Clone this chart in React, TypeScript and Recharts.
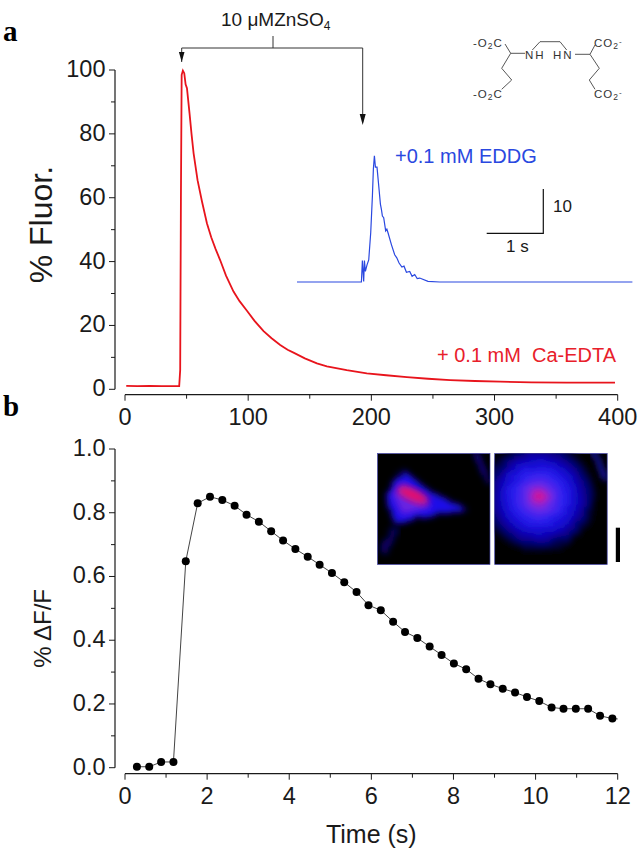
import { LineChart, Line, XAxis, YAxis } from 'recharts';

const FONT = "'Liberation Sans', Arial, sans-serif";
const INK = '#1a1a1a';

// panel a, red trace (+ Ca-EDTA)
const redTimes = [1, 10, 20, 30, 40, 44, 44.8, 45.4, 46, 47, 48.1, 49.2, 50.3, 52.4, 54, 55.7, 58.9, 62.5, 66.5, 70, 73.5, 77.3, 82, 88.1, 93, 99, 105, 112.5, 119, 126, 132, 136.8, 146, 155.8, 163.9, 180, 196.3, 212, 228.8, 246, 264, 284, 304.5, 330, 358.6, 380, 397.8];
const redValues = [1.1, 1.0, 1.1, 1.0, 1.0, 1.0, 6, 60, 98.5, 99.8, 99, 95.5, 94.3, 86.4, 80, 73.9, 65.5, 58.8, 52, 47.6, 44, 40.4, 35.6, 30.6, 27.6, 24.6, 21.5, 18.2, 16, 13.9, 12.4, 11.5, 9.7, 8.1, 7.2, 6, 5, 4.4, 3.8, 3.3, 2.9, 2.6, 2.4, 2.2, 2.1, 2.1, 2.1];

// panel a inset, blue trace (+ EDDG), seconds and % on the scale bar
const blueTimes = [0, 1.136, 1.153, 1.176, 1.189, 1.206, 1.235, 1.265, 1.3, 1.33, 1.347, 1.365, 1.383, 1.411, 1.436, 1.471, 1.49, 1.506, 1.529, 1.564, 1.585, 1.605, 1.665, 1.723, 1.76, 1.8, 1.85, 1.887, 1.93, 1.988, 2.03, 2.076, 2.12, 2.164, 2.31, 2.517, 5.915];
const blueValues = [0, 0, 4.9, 0.1, 4.9, 2.4, 3.9, 5, 11.2, 19.6, 25.7, 28.7, 26.1, 26.1, 22.6, 17.7, 16.4, 15, 14.6, 11.6, 12, 11.2, 8.5, 6.2, 5.5, 4.3, 3.4, 3.6, 2.2, 2.4, 1.3, 1.7, 0.8, 0.9, 0.15, 0, 0];

// panel b
const dffTimes = [0.29, 0.59, 0.88, 1.18, 1.48, 1.77, 2.07, 2.37, 2.67, 2.96, 3.26, 3.56, 3.85, 4.15, 4.45, 4.74, 5.04, 5.34, 5.64, 5.93, 6.23, 6.53, 6.82, 7.12, 7.42, 7.71, 8.01, 8.31, 8.61, 8.9, 9.2, 9.5, 9.79, 10.09, 10.39, 10.68, 10.98, 11.28, 11.57, 11.87, 12];
const dffValues = [0.003, 0.003, 0.018, 0.018, 0.648, 0.83, 0.85, 0.84, 0.822, 0.794, 0.772, 0.742, 0.713, 0.686, 0.662, 0.637, 0.611, 0.582, 0.551, 0.51, 0.494, 0.458, 0.426, 0.407, 0.38, 0.354, 0.327, 0.309, 0.279, 0.262, 0.248, 0.236, 0.222, 0.209, 0.189, 0.185, 0.185, 0.185, 0.163, 0.154, 0.153];

const xTicksA = [0, 50, 100, 150, 200, 250, 300, 350, 400];
const yTicksA = [0, 10, 20, 30, 40, 50, 60, 70, 80, 90, 100];
const xTicksB = [0, 1, 2, 3, 4, 5, 6, 7, 8, 9, 10, 11, 12];
const yTicksB = [0, 0.1, 0.2, 0.3, 0.4, 0.5, 0.6, 0.7, 0.8, 0.9, 1];

const redData = redTimes.map((t, i) => ({ t, v: redValues[i] }));
const blueData = blueTimes.map((t, i) => ({ t, v: blueValues[i] }));
const dffData = dffTimes.map((t, i) => ({ t, v: dffValues[i] }));

// Origin style axes sit clear of the data, so ticks are drawn with a gap from the plot edge
const BottomTick = ({ x, y, payload, gap, step }: any) => {
  const major = Math.round(payload.value / step) % 2 === 0;
  return (
    <g>
      <line x1={x} x2={x} y1={y + gap} y2={y + gap + (major ? 6 : 4)} stroke={INK} strokeWidth={1} />
      {major && (
        <text x={x} y={y + gap + 30} textAnchor="middle" fontSize={23.5} fontFamily={FONT} fill={INK}>
          {payload.value}
        </text>
      )}
    </g>
  );
};

const LeftTick = ({ x, y, payload, step, digits }: any) => {
  const major = Math.round(payload.value / step) % 2 === 0;
  return (
    <g>
      <line x1={x - 10} x2={x - 10 - (major ? 6 : 4)} y1={y} y2={y} stroke={INK} strokeWidth={1} />
      {major && (
        <text x={x - 19.5} y={y + 7} textAnchor="end" fontSize={23.5} fontFamily={FONT} fill={INK}>
          {payload.value.toFixed(digits)}
        </text>
      )}
    </g>
  );
};

const DffDot = ({ cx, cy, index }: any) =>
  index === dffData.length - 1 ? <g key={index} /> : <circle key={index} cx={cx} cy={cy} r={4} fill="#000" />;

function Molecule() {
  const t = { fontSize: 11.5, fontFamily: FONT, fill: '#333', letterSpacing: 1 };
  const sub = { fontSize: 8.5, dy: 2 };
  return (
    <g>
      <path
        d="M505 44 L510.7 53.3 L525 53.3 M510.7 53.3 L501.7 68.3 L511.7 80 L501.7 89.3 M532.3 50 L540 41.7 L560 41.7 L566.7 50 M575 54.3 L590 54.3 L595 45 M590 54.3 L599.3 68.3 L589.3 80 L595 89.3"
        fill="none"
        stroke="#444"
        strokeWidth={0.9}
      />
      <text x={473} y={47} {...t}>-O<tspan {...sub}>2</tspan><tspan dy={-2}>C</tspan></text>
      <text x={473} y={98} {...t}>-O<tspan {...sub}>2</tspan><tspan dy={-2}>C</tspan></text>
      <text x={525} y={59} {...t} letterSpacing={2}>NH</text>
      <text x={553} y={59} {...t} letterSpacing={2}>HN</text>
      <text x={594} y={47} {...t}>CO<tspan {...sub}>2</tspan><tspan dy={-5} fontSize={8}>-</tspan></text>
      <text x={594} y={98} {...t}>CO<tspan {...sub}>2</tspan><tspan dy={-5} fontSize={8}>-</tspan></text>
    </g>
  );
}

function CellImages() {
  return (
    <g>
      <defs>
        <filter id="rough" x="-30%" y="-30%" width="160%" height="160%">
          <feTurbulence type="fractalNoise" baseFrequency="0.14" numOctaves="2" seed="4" result="n" />
          <feDisplacementMap in="SourceGraphic" in2="n" scale="9" />
          <feGaussianBlur stdDeviation="3" />
        </filter>
        <filter id="soft" x="-30%" y="-30%" width="160%" height="160%">
          <feGaussianBlur stdDeviation="3.5" />
        </filter>
        <radialGradient id="spot">
          <stop offset="0%" stopColor="#f0106a" />
          <stop offset="7%" stopColor="#c818a0" />
          <stop offset="20%" stopColor="#6a28e8" />
          <stop offset="42%" stopColor="#2a20f0" />
          <stop offset="62%" stopColor="#1408d0" />
          <stop offset="80%" stopColor="#07038a" />
          <stop offset="100%" stopColor="#000000" />
        </radialGradient>
        <clipPath id="imgL"><rect x={377.5} y={453.5} width={112.5} height={111} /></clipPath>
        <clipPath id="imgR"><rect x={494.7} y={453.5} width={112.5} height={111} /></clipPath>
      </defs>
      <rect x={377.5} y={453.5} width={112.5} height={111} fill="#000" stroke="#4a4ab0" strokeWidth={0.7} />
      <rect x={494.7} y={453.5} width={112.5} height={111} fill="#000" stroke="#4a4ab0" strokeWidth={0.7} />
      <g clipPath="url(#imgL)">
        <path d="M404 470 L386 490 L390 512 L396 526 L420 517 L468 510 L428 490 Z" fill="#1a10e8" filter="url(#rough)" />
        <path d="M404 482 L392 494 L402 515 L432 507 Z" fill="#6a20e0" filter="url(#soft)" />
        <ellipse cx={413} cy={495} rx={17} ry={6} transform="rotate(24 413 495)" fill="#e8106a" filter="url(#soft)" />
        <path d="M382 552 L396 528" stroke="#080570" strokeWidth={7} filter="url(#rough)" />
        <path d="M475 452 L490 484" stroke="#1410b0" strokeWidth={3.5} filter="url(#rough)" />
      </g>
      <g clipPath="url(#imgR)">
        <ellipse cx={539} cy={497} rx={58} ry={56} fill="url(#spot)" filter="url(#rough)" />
        <path d="M594 452 L606 480" stroke="#1c18d0" strokeWidth={4.5} filter="url(#rough)" />
      </g>
      <rect x={615.8} y={527.7} width={4.2} height={34.3} fill="#000" />
    </g>
  );
}

function Annotations() {
  return (
    <svg width={642} height={852} style={{ position: 'absolute', left: 0, top: 0, pointerEvents: 'none' }}>
      <text x={3} y={41} fontSize={29} fontWeight="bold" fontFamily="'Liberation Serif', serif" fill="#000">a</text>
      <text x={3} y={416} fontSize={29} fontWeight="bold" fontFamily="'Liberation Serif', serif" fill="#000">b</text>

      {/* zinc application bracket */}
      <path d="M181.7 62 L181.7 48 L362.7 48 L362.7 122 M273 36 L273 48" fill="none" stroke="#333" strokeWidth={1} />
      <path d="M178.9 52 L184.5 52 L181.7 62 Z M359.7 114 L365.7 114 L362.7 125 Z" fill="#111" />
      <text x={221} y={26} fontSize={19} fontFamily={FONT} fill={INK}>
        10 μMZnSO<tspan fontSize={12} dy={4}>4</tspan>
      </text>

      <Molecule />

      <text x={395} y={163} fontSize={20} fontFamily={FONT} fill="#2a48e0">+0.1 mM EDDG</text>
      <text x={437} y={362} fontSize={20} fontFamily={FONT} fill="#e8202a" xmlSpace="preserve">+ 0.1 mM  Ca-EDTA</text>

      {/* inset scale bar */}
      <path d="M486.7 233.3 L543.3 233.3 L543.3 189" fill="none" stroke="#111" strokeWidth={1.2} />
      <text x={553} y={212} fontSize={17} fontFamily={FONT} fill={INK}>10</text>
      <text x={506} y={252} fontSize={17} fontFamily={FONT} fill={INK}>1 s</text>

      <CellImages />
    </svg>
  );
}

export default function App() {
  return (
    <div style={{ position: 'absolute', left: 0, top: 0, width: 642, height: 852, background: '#fff', overflow: 'hidden' }}>
      <div style={{ position: 'absolute', left: 0, top: 0 }}>
        <LineChart width={642} height={430} data={redData} margin={{ top: 70, right: 24.3, bottom: 0, left: 0 }}>
          <XAxis
            type="number"
            dataKey="t"
            domain={[0, 400]}
            ticks={xTicksA}
            interval={0}
            height={40.7}
            tickSize={0}
            tickMargin={0}
            tickLine={false}
            axisLine={{ stroke: INK, strokeWidth: 1.2, transform: 'translate(0 5.4)' }}
            tick={<BottomTick gap={5.4} step={50} />}
          />
          <YAxis
            type="number"
            domain={[0, 100]}
            ticks={yTicksA}
            interval={0}
            width={125}
            tickSize={0}
            tickMargin={0}
            tickLine={false}
            axisLine={{ stroke: INK, strokeWidth: 1.2, transform: 'translate(-10 0)' }}
            tick={<LeftTick step={10} digits={0} />}
            label={{ value: '% Fluor.', angle: -90, position: 'center', dx: -22, dy: -5, fontSize: 32, fontFamily: FONT, fill: INK }}
          />
          <Line dataKey="v" stroke="#e8141c" strokeWidth={1.8} dot={false} isAnimationActive={false} />
        </LineChart>
      </div>

      <div style={{ position: 'absolute', left: 297.3, top: 150.3 }}>
        <LineChart width={335.4} height={140.8} data={blueData} margin={{ top: 0, right: 0, bottom: 0, left: 0 }}>
          <XAxis type="number" dataKey="t" domain={[0, 5.915]} hide />
          <YAxis type="number" domain={[-2, 30]} hide />
          <Line dataKey="v" stroke="#2a48e0" strokeWidth={1.2} dot={false} isAnimationActive={false} />
        </LineChart>
      </div>

      <div style={{ position: 'absolute', left: 0, top: 430 }}>
        <LineChart width={642} height={422} data={dffData} margin={{ top: 19, right: 24.3, bottom: 0, left: 0 }}>
          <XAxis
            type="number"
            dataKey="t"
            domain={[0, 12]}
            ticks={xTicksB}
            interval={0}
            height={84.3}
            tickSize={0}
            tickMargin={0}
            tickLine={false}
            axisLine={{ stroke: INK, strokeWidth: 1.2, transform: 'translate(0 6)' }}
            tick={<BottomTick gap={6} step={1} />}
            label={{ value: 'Time (s)', position: 'insideBottom', offset: 9, fontSize: 25, fontFamily: FONT, fill: INK }}
          />
          <YAxis
            type="number"
            domain={[0, 1]}
            ticks={yTicksB}
            interval={0}
            width={125}
            tickSize={0}
            tickMargin={0}
            tickLine={false}
            axisLine={{ stroke: INK, strokeWidth: 1.2, transform: 'translate(-10 0)' }}
            tick={<LeftTick step={0.1} digits={1} />}
            label={{ value: '% ΔF/F', angle: -90, position: 'center', dx: -20, dy: 20, fontSize: 24, fontFamily: FONT, fill: INK }}
          />
          <Line dataKey="v" stroke="#444" strokeWidth={1} dot={DffDot} isAnimationActive={false} />
        </LineChart>
      </div>

      <Annotations />
    </div>
  );
}
